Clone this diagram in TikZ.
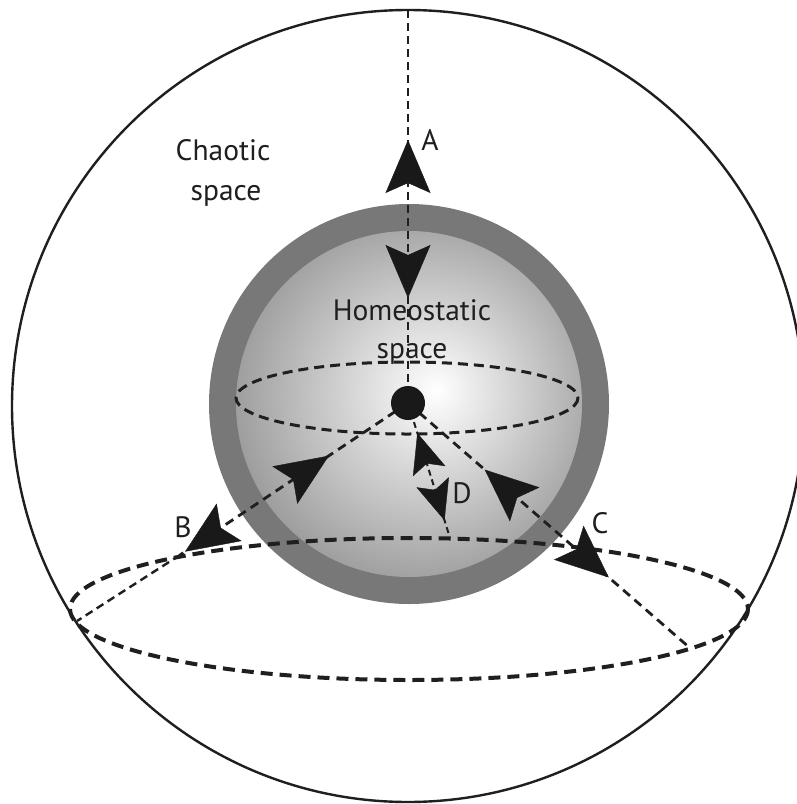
\documentclass[tikz,border=0pt]{standalone}
\usepackage{fontspec}
\setmainfont{PT Sans}
\usetikzlibrary{arrows.meta,decorations.markings}
\pgfdeclareradialshading{sphereshade}{\pgfpoint{4bp}{2bp}}{color(0bp)=(white); color(27bp)=(black!38); color(50bp)=(black!38)}
\definecolor{ringgray}{gray}{0.47}
\tikzset{
  bigtip/.style={postaction={decorate}, decoration={markings, mark=at position #1 with {\arrow{Stealth[length=53pt,width=45pt,inset=10pt]}}}},
  smalltip/.style={postaction={decorate}, decoration={markings, mark=at position #1 with {\arrow{Stealth[length=40pt,width=34pt,inset=8pt]}}}},
  vdash/.style={line width=1.9pt, dash pattern=on 8pt off 5pt},
  inell/.style={line width=3pt, dash pattern=on 10pt off 6pt},
  bigell/.style={line width=4pt, dash pattern=on 12pt off 7pt},
  ray/.style={line width=2.8pt, dash pattern=on 9pt off 6pt},
  dray/.style={line width=2pt, dash pattern=on 6pt off 4pt},
  thinray/.style={line width=2.4pt, dash pattern=on 8pt off 5pt},
  lbl/.style={font=\fontsize{29.5}{34}\selectfont, text=black!88, inner sep=0pt, anchor=base},
}
\begin{document}
\begin{tikzpicture}[x=1pt,y=-1pt]
\useasboundingbox (0,0) rectangle (797,804);
\fill[white] (0,0) rectangle (797,804);
% key points
\coordinate (W) at (408,406);
\coordinate (S) at (409,404);
\coordinate (O) at (408,403);
\coordinate (Atop) at (408,10);
\coordinate (Bend) at (180,555);
\coordinate (Cend) at (690,648);
\coordinate (Dend) at (450,538);
\coordinate (Lend) at (77,621);
\coordinate (IE) at (407,398);
\coordinate (BE) at (409,609);
% chaotic space boundary
\draw[line width=2.4pt, black!88] (W) circle[radius=396];
% homeostatic sphere
\fill[ringgray] (S) circle[radius=200];
\shade[shading=sphereshade] (S) circle[radius=173];
% text
\node[lbl] (ch1) at (223,160) {Chaotic};
\node[lbl] (ch2) at (226,200) {space};
\node[lbl] (ho1) at (412,320) {Homeostatic};
\node[lbl] (ho2) at (412,358) {space};
% ellipses
\draw[inell, black!88] (IE) ellipse[x radius=171, y radius=36];
\draw[bigell, black!88] (BE) ellipse[x radius=339, y radius=71];
% rays
\draw[vdash, black!88] (Atop) -- (O);
\draw[ray, black!88] (O) -- (Bend);
\draw[thinray, black!88] (Bend) -- (Lend);
\draw[ray, black!88] (O) -- (Cend);
\draw[dray, black!88] (O) -- (Dend);
% centre
\fill[black!90] (O) circle[radius=17];
% arrowheads
\path[bigtip=263pt, black!90] (O) -- (Atop);
\path[bigtip=288pt, black!90] (Atop) -- (O);
\path[bigtip=179pt, black!90] (Bend) -- (O);
\path[bigtip=268pt, black!90] (O) -- (Bend);
\path[bigtip=272pt, black!90] (Cend) -- (O);
\path[bigtip=266pt, black!90] (O) -- (Cend);
\path[smalltip=110pt, black!90] (Dend) -- (O);
\path[smalltip=123pt, black!90] (O) -- (Dend);
% labels
\node[lbl] (la) at (430,150) {A};
\node[lbl] (lb) at (183,537) {B};
\node[lbl] (lc) at (600,533) {C};
\node[lbl] (ld) at (462,503) {D};
\end{tikzpicture}
\end{document}
